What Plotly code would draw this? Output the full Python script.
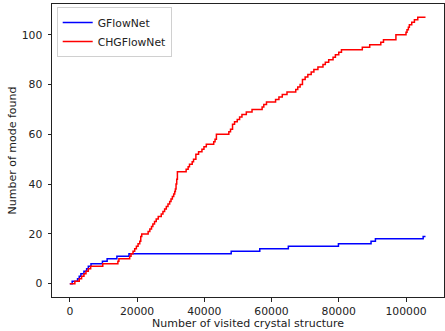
import plotly.graph_objects as go

# GFlowNet (blue) step data
gfn_x = [0, 700, 2300, 2800, 3300, 4200, 5000, 5500, 6300, 9700, 11100, 14000, 17600,
         48000, 56500, 65000, 79900, 89600, 90900, 105100, 105800]
gfn_y = [0, 1, 2, 3, 4, 5, 6, 7, 8, 9, 10, 11, 12,
         13, 14, 15, 16, 17, 18, 19, 19]

# CHGFlowNet (red) step data
chg_x = [0, 1500, 2800, 3500, 4200, 4800, 5500, 6200, 9800, 14300, 14600, 17800, 18200,
         18800, 19300, 19800, 20300, 20800, 21100, 21400, 23300, 23800, 24300, 24700,
         25200, 25700, 26300, 27200, 27700, 28200, 28700, 29200, 29700, 30100, 30500,
         30900, 31200, 31400, 31600, 31800, 32000, 34600, 35200, 35600, 36400, 36800,
         37500, 38300, 39300, 39900, 40600, 42800, 43200, 43600, 47300, 47800, 48400,
         49000, 49800, 50500, 51200, 52500, 54200, 57200, 57700, 58500, 61200, 62200,
         63200, 64600, 67200, 67800, 68500, 69200, 70000, 70800, 71800, 72600, 73800,
         75300, 76000, 77000, 78300, 79000, 80000, 80800, 87000, 89200, 92500, 93300,
         97000, 100000, 100300, 100700, 101000, 101700, 102500, 103500, 105800]
chg_y = [0, 1, 2, 3, 4, 5, 6, 7, 8, 9, 10, 11, 12,
         13, 14, 15, 16, 17, 19, 20, 21, 22, 23, 24,
         25, 26, 27, 28, 29, 30, 31, 32, 33, 34, 35,
         36, 37, 38, 40, 42, 45, 46, 47, 48, 49, 50,
         52, 53, 54, 55, 56, 57, 58, 60, 61, 62, 64,
         65, 66, 67, 68, 69, 70, 71, 72, 73, 74, 75,
         76, 77, 78, 79, 80, 82, 83, 84, 85, 86, 87,
         88, 89, 90, 91, 92, 93, 94, 95, 96, 97, 98,
         100, 101, 102, 103, 104, 105, 106, 107, 107]

x_ticks = [0, 20000, 40000, 60000, 80000, 100000]
y_ticks = [0, 20, 40, 60, 80, 100]

fig = go.Figure()
fig.add_trace(go.Scatter(x=gfn_x, y=gfn_y, mode="lines", name="GFlowNet",
                         line=dict(color="blue", width=1.5, shape="hv")))
fig.add_trace(go.Scatter(x=chg_x, y=chg_y, mode="lines", name="CHGFlowNet",
                         line=dict(color="red", width=1.5, shape="hv")))

font = dict(family="DejaVu Sans", size=10.8, color="#222")
title_font = dict(family="DejaVu Sans", size=11, color="#222")
axis_common = dict(showgrid=False, zeroline=False, showline=True, linecolor="#222",
                   linewidth=1, mirror=True, ticks="outside", ticklen=3.5,
                   tickcolor="#222", tickfont=font, automargin=False)

fig.update_layout(
    width=445, height=331,
    margin=dict(l=52, r=1, t=4, b=34),
    paper_bgcolor="white", plot_bgcolor="white",
    font=font,
    showlegend=True,
    legend=dict(x=0.012, y=0.99, xanchor="left", yanchor="top",
                bgcolor="rgba(255,255,255,0.8)", bordercolor="#d0d0d0", borderwidth=1,
                font=font, tracegroupgap=0, itemwidth=30),
    xaxis=dict(range=[-5300, 111300], tickvals=x_ticks,
               ticktext=[str(v) for v in x_ticks], ticklabelstandoff=1, **axis_common),
    yaxis=dict(range=[-5.35, 112.35], tickvals=y_ticks,
               ticktext=[str(v) for v in y_ticks], ticklabelstandoff=3, **axis_common),
    annotations=[
        dict(text="Number of visited crystal structure", xref="paper", yref="paper",
             x=0.5, y=-(331 - 297) / 294, xanchor="center", yanchor="bottom",
             showarrow=False, font=title_font, borderpad=0),
        dict(text="Number of mode found", xref="paper", yref="paper",
             x=-(52 - 12) / 392, y=0.5, xanchor="center", yanchor="middle",
             textangle=-90, showarrow=False, font=title_font),
    ],
)

fig.write_html("out.html", config={"displayModeBar": False},
               post_script="document.body.style.margin='0';document.body.style.padding='0';document.body.style.overflow='hidden';")
